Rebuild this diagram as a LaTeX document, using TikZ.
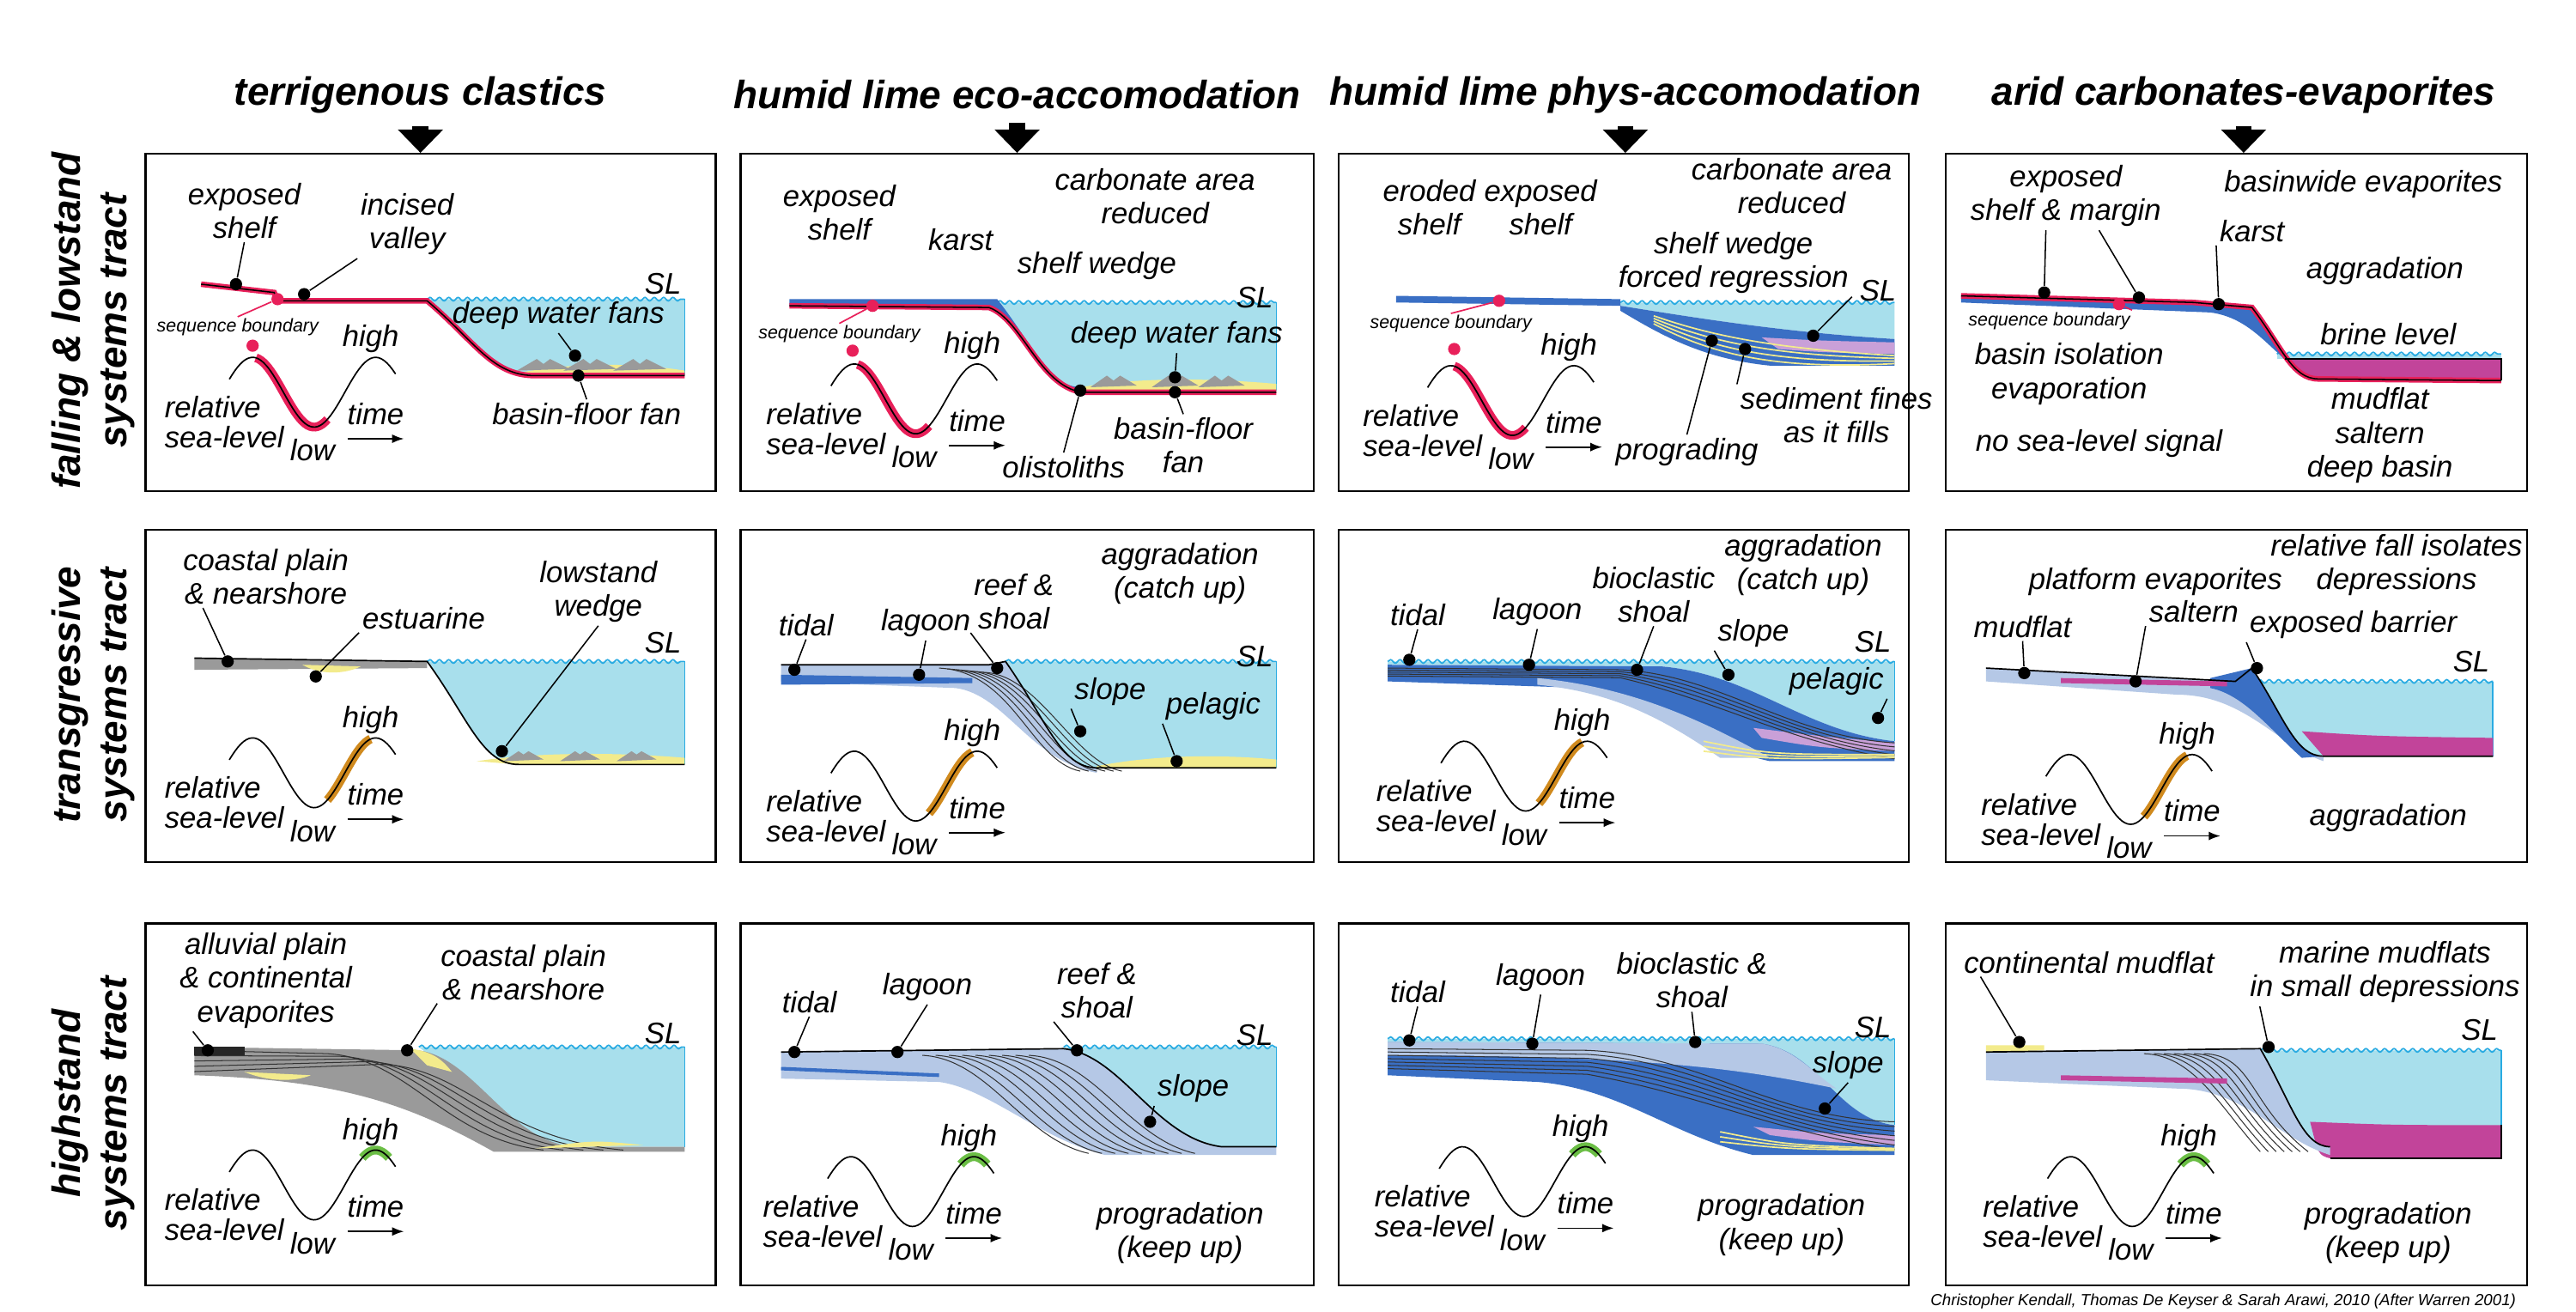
\documentclass[tikz,border=0pt]{standalone}
\usepackage{fontspec}
\setmainfont{Liberation Sans}
\usetikzlibrary{arrows.meta,decorations.pathmorphing,calc}
\definecolor{water}{HTML}{A8DFEC}
\definecolor{sealine}{HTML}{29ABE2}
\definecolor{sbred}{HTML}{E8205A}
\definecolor{carbd}{HTML}{3A6FC4}
\definecolor{carbl}{HTML}{B5C8E6}
\definecolor{evap}{HTML}{C2449A}
\definecolor{sand}{HTML}{F3EB8C}
\definecolor{silt}{HTML}{9A9A9A}
\definecolor{tgold}{HTML}{D08A1E}
\definecolor{hgreen}{HTML}{6BBE45}
\definecolor{lilac}{HTML}{C9A0D8}
\tikzset{
	panel/.style={draw, line width=0.7pt, anchor=north west, inner sep=0},
	hdr/.style={font=\fontsize{13.5}{16}\selectfont\bfseries\itshape, align=center},
	lbl/.style={font=\fontsize{10.2}{11.5}\selectfont\itshape, align=center, inner sep=1pt},
	tiny/.style={font=\fontsize{6.3}{7}\selectfont\itshape, inner sep=0.5pt},
	dot/.style={circle, fill=black, inner sep=0, minimum size=4.2pt},
	rdot/.style={circle, fill=sbred, inner sep=0, minimum size=4.2pt},
	callout/.style={line width=0.45pt},
	wave/.style={draw=sealine, line width=0.5pt, decorate, decoration={snake, segment length=3.2pt, amplitude=0.6pt}},
	profile/.style={draw=black, line width=0.45pt, preaction={draw=sbred, line width=1.9pt}},
	clino/.style={draw=black!80, line width=0.3pt},
	bigarrow/.style={line width=5.5pt, -{Triangle[width=15pt,length=8pt]}},
	sig/.style n args={4}{insert path={.. controls ({#1+0.45*(#3-#1)},{#2+0.55*(#4-#2)}) and ({#3-0.4*(#3-#1)},#4) .. (#3,#4)}}
}
% water body right of the shelf break
\newcommand\basin[5]{%
	\fill[water] (#1,#2) [sig={#1}{#2}{#3}{#4}] -- (#5,#4) -- (#5,#2) -- cycle;
	\draw[wave] (#1,#2) -- (#5,#2);
	\draw[sealine, line width=0.5pt] (#5,#2) -- (#5,#4);}
% relative sea-level curve, trough at (#1,#2)
\newcommand\sealevel[5]{%
	\draw[line width=0.5pt] plot[domain=-51:49, samples=60] ({#1+\x},{#2-21+21*cos(\x*180/37)});
	\draw[line width=0.5pt, preaction={draw=#3, line width=3pt}] plot[domain=#4:#5, samples=30] ({#1+\x},{#2-21+21*cos(\x*180/37)});
	\node[lbl, anchor=west] (rel) at ({#1-92},{#2-12}) {relative};
	\node[lbl, anchor=west] (sea) at ({#1-92},{#2+6}) {sea-level};
	\node[lbl] (low) at ({#1-1},{#2+14}) {low};
	\node[lbl] (high) at ({#1+34},{#2-53}) {high};
	\node[lbl] (time) at ({#1+37},{#2-8}) {time};
	\coordinate (t0) at ({#1+20},{#2+7});
	\coordinate (t1) at ({#1+54},{#2+7});
	\draw[-{Latex[length=4pt]}, line width=0.5pt] (t0) -- (t1);}

\begin{document}
\begin{tikzpicture}[x=0.02cm, y=-0.02cm]
	\useasboundingbox (0,0) rectangle (1550,789);
	\fill[white] (0,0) rectangle (1550,789);

	%%% headers and boxes
	\node[hdr] (h1) at (253,57) {terrigenous clastics};
	\node[hdr] (h2) at (612,57) {humid lime eco-accomodation};
	\node[hdr] (h3) at (978,57) {humid lime phys-accomodation};
	\node[hdr] (h4) at (1350,57) {arid carbonates-evaporites};
	\node[hdr, rotate=90] (r1) at (56,193) {falling \& lowstand\\systems tract};
	\node[hdr, rotate=90] (r2) at (56,418) {transgressive\\systems tract};
	\node[hdr, rotate=90] (r3) at (56,664) {highstand\\systems tract};

	\node[panel, minimum width=6.86cm, minimum height=4.06cm] (b11) at (87,92) {};
	\node[panel, minimum width=6.90cm, minimum height=4.06cm] (b12) at (445,92) {};
	\node[panel, minimum width=6.86cm, minimum height=4.06cm] (b13) at (805,92) {};
	\node[panel, minimum width=7.00cm, minimum height=4.06cm] (b14) at (1170,92) {};
	\node[panel, minimum width=6.86cm, minimum height=4.00cm] (b21) at (87,318) {};
	\node[panel, minimum width=6.90cm, minimum height=4.00cm] (b22) at (445,318) {};
	\node[panel, minimum width=6.86cm, minimum height=4.00cm] (b23) at (805,318) {};
	\node[panel, minimum width=7.00cm, minimum height=4.00cm] (b24) at (1170,318) {};
	\node[panel, minimum width=6.86cm, minimum height=4.36cm] (b31) at (87,555) {};
	\node[panel, minimum width=6.90cm, minimum height=4.36cm] (b32) at (445,555) {};
	\node[panel, minimum width=6.86cm, minimum height=4.36cm] (b33) at (805,555) {};
	\node[panel, minimum width=7.00cm, minimum height=4.36cm] (b34) at (1170,555) {};

	\draw[bigarrow] ([yshift=-1pt]h1.south) -- (h1.south |- b11.north);
	\draw[bigarrow] ([yshift=-1pt]h2.south) -- (h2.south |- b12.north);
	\draw[bigarrow] ([yshift=-1pt]h3.south) -- (h3.south |- b13.north);
	\draw[bigarrow] ([yshift=-1pt]h4.south) -- (h4.south |- b14.north);

	%%% falling & lowstand, terrigenous
	\begin{scope}[shift={(87,92)}, name prefix=a-]
		\basin{170}{88}{235}{134}{325}
		\fill[sand] (222,133) .. controls (260,125) and (300,127) .. (325,131) -- (325,134) -- (235,134) -- cycle;
		\foreach \x in {240,268,298}
			\fill[silt] (\x-16,131) -- (\x-4,124) -- (\x,127) -- (\x+4,124) -- (\x+16,130) -- cycle;
		\draw[profile] (34,79) -- (78,84) -- (80,89) -- (170,89) [sig={170}{89}{235}{134}] -- (325,134);
		\node[lbl] (exp) at (60,35) {exposed\\shelf};
		\node[lbl] (inc) at (158,43) {incised\\valley};
		\node[dot] (d1) at (55,79) {};
		\node[dot] (d2) at (96,85) {};
		\draw[callout] (exp.south) -- (d1);
		\draw[callout] (inc.south west) -- (d2);
		\node[rdot] (sb) at (80,88) {};
		\node[tiny] (sbt) at (56,105) {sequence boundary};
		\node[rdot] (sb2) at (65,116) {};
		\draw[sbred, line width=0.5pt] (sb) -- (sbt.north);
		\node[lbl, anchor=east] (sl) at (325,79) {SL};
		\node[lbl] (dwf) at (249,98) {deep water fans};
		\node[dot] (d3) at (259,122) {};
		\draw[callout] (dwf.south) -- (d3);
		\node[lbl] (bff) at (266,157) {basin-floor fan};
		\node[dot] (d4) at (261,134) {};
		\draw[callout] (bff.north) -- (d4);
		\sealevel{102}{165}{sbred}{-35}{8}
	\end{scope}

	%%% falling & lowstand, humid eco
	\begin{scope}[shift={(445,92)}, name prefix=b-]
		\basin{155}{90}{205}{143}{323}
		\fill[sand] (200,142) .. controls (240,134) and (290,136) .. (323,139) -- (323,143) -- (205,143) -- cycle;
		\foreach \x in {225,262,290}
			\fill[silt] (\x-14,141) -- (\x-4,134) -- (\x,137) -- (\x+4,134) -- (\x+14,140) -- cycle;
		\fill[carbd] (30,88) -- (155,88) [sig={155}{88}{206}{141}] -- (206,145) .. controls (180,140) and (170,100) .. (150,93) -- (30,92) -- cycle;
		\draw[profile] (30,92) -- (150,93) .. controls (170,100) and (180,140) .. (206,144) -- (323,144);
		\node[lbl] (exp) at (60,36) {exposed\\shelf};
		\node[lbl] (kar) at (133,52) {karst};
		\node[lbl] (car) at (250,26) {carbonate area\\reduced};
		\node[lbl] (swd) at (215,68) {shelf wedge};
		\node[tiny] (sbt) at (60,109) {sequence boundary};
		\node[rdot] (sb) at (80,92) {};
		\node[rdot] (sb2) at (68,119) {};
		\draw[sbred, line width=0.5pt] (sb) -- (sbt.north);
		\node[lbl, anchor=east] (sl) at (323,87) {SL};
		\node[lbl] (dwf) at (263,110) {deep water fans};
		\node[lbl] (bff) at (267,176) {basin-floor\\fan};
		\node[lbl] (oli) at (195,189) {olistoliths};
		\node[dot] (d1) at (262,135) {};
		\node[dot] (d2) at (262,144) {};
		\node[dot] (d3) at (205,143) {};
		\draw[callout] (dwf.south) -- (d1);
		\draw[callout] (bff.north) -- (d2);
		\draw[callout] (oli.north) -- (d3);
		\sealevel{106}{169}{sbred}{-35}{8}
	\end{scope}

	%%% falling & lowstand, humid phys
	\begin{scope}[shift={(805,92)}, name prefix=c-]
		\fill[water] (170,90) -- (335,90) -- (335,112) .. controls (270,108) and (220,100) .. (170,92) -- cycle;
		\draw[wave] (170,90) -- (335,90);
		\fill[carbd] (170,92) .. controls (220,100) and (270,108) .. (335,112) -- (335,128) -- (260,128) .. controls (220,124) and (195,110) .. (170,95) -- cycle;
		\fill[lilac] (255,111) .. controls (290,113) .. (335,114) -- (335,121) .. controls (290,120) .. (265,118) -- cycle;
		\foreach \k in {0,4,8,12}
			\draw[sand, line width=0.5pt] (190,98+\k*0.4) .. controls (230,112+\k) and (270,118+\k) .. (335,122+\k*0.4);
		\fill[carbd] (35,86) -- (170,88) -- (170,92) -- (35,90) -- cycle;
		\node[lbl] (ero) at (55,33) {eroded\\shelf};
		\node[lbl] (exp) at (122,33) {exposed\\shelf};
		\node[lbl] (car) at (273,20) {carbonate area\\reduced};
		\node[lbl] (swd) at (238,66) {shelf wedge\\forced regression};
		\node[tiny] (sbt) at (68,103) {sequence boundary};
		\node[rdot] (sb) at (97,89) {};
		\node[rdot] (sb2) at (70,118) {};
		\draw[sbred, line width=0.5pt] (sb) -- (sbt.north);
		\node[lbl, anchor=east] (sl) at (338,83) {SL};
		\node[dot] (d1) at (286,110) {};
		\draw[callout] (swd.south east) -- (d1);
		\node[lbl] (sed) at (300,158) {sediment fines\\as it fills};
		\node[dot] (d2) at (245,118) {};
		\draw[callout] (sed.north west) -- (d2);
		\node[lbl] (pro) at (210,180) {prograding};
		\node[dot] (d3) at (225,113) {};
		\draw[callout] (pro.north) -- (d3);
		\sealevel{105}{170}{sbred}{-35}{8}
	\end{scope}

	%%% falling & lowstand, arid
	\begin{scope}[shift={(1170,92)}, name prefix=d-]
		\fill[water] (200,121) rectangle (335,124);
		\draw[wave] (200,121) -- (335,121);
		\fill[evap] (205,124) -- (335,124) -- (335,137) -- (235,137) .. controls (220,137) .. (205,124) -- cycle;
		\fill[carbd] (10,86) -- (150,90) -- (185,93) [sig={185}{93}{225}{136}] -- (225,137) .. controls (200,128) and (190,100) .. (160,96) -- (10,90) -- cycle;
		\draw[profile] (10,86) -- (150,90) -- (185,93) [sig={185}{93}{225}{136}] -- (335,137);
		\draw[line width=0.5pt] (205,124) -- (335,124) -- (335,137);
		\node[lbl] (exp) at (73,26) {exposed\\shelf \& margin};
		\node[lbl] (bwe) at (252,19) {basinwide evaporites};
		\node[lbl] (kar) at (185,47) {karst};
		\node[lbl] (agg) at (265,71) {aggradation};
		\node[lbl] (brl) at (267,109) {brine level};
		\node[dot] (d1) at (60,84) {};
		\node[dot] (d2) at (117,87) {};
		\node[dot] (d3) at (165,91) {};
		\draw[callout] (exp.south) ++(-12,0) coordinate (e1) (e1) -- (d1);
		\draw[callout] (exp.south) ++(20,0) coordinate (e2) (e2) -- (d2);
		\draw[callout] (kar.south west) -- (d3);
		\node[rdot] (sb) at (105,91) {};
		\node[tiny] (sbt) at (63,101) {sequence boundary};
		\draw[sbred, line width=0.5pt] (sb) -- (sbt.north east);
		\node[lbl] (iso) at (75,133) {basin isolation\\evaporation};
		\node[lbl] (nos) at (93,175) {no sea-level signal};
		\node[lbl] (mud) at (262,170) {mudflat\\saltern\\deep basin};
	\end{scope}

	%%% transgressive, terrigenous
	\begin{scope}[shift={(87,318)}, name prefix=e-]
		\basin{170}{80}{225}{142}{325}
		\fill[sand] (200,140) .. controls (240,134) and (290,135) .. (325,138) -- (325,142) -- (225,142) -- cycle;
		\foreach \x in {228,262,296}
			\fill[silt] (\x-12,140) -- (\x-3,134) -- (\x,136) -- (\x+3,134) -- (\x+12,139) -- cycle;
		\fill[silt] (30,78) -- (170,80) -- (170,84) -- (30,85) -- cycle;
		\fill[sand] (95,82) .. controls (105,88) and (120,88) .. (130,83) -- cycle;
		\draw[line width=0.5pt] (30,78) -- (170,80) [sig={170}{80}{225}{142}] -- (325,142);
		\node[lbl] (cpn) at (73,29) {coastal plain\\\& nearshore};
		\node[lbl] (est) at (168,54) {estuarine};
		\node[lbl] (low) at (273,38) {lowstand\\wedge};
		\node[lbl, anchor=east] (sl) at (325,69) {SL};
		\node[dot] (d1) at (50,80) {};
		\node[dot] (d2) at (103,89) {};
		\node[dot] (d3) at (215,134) {};
		\draw[callout] (cpn.south west) ++(14,0) coordinate (c1) (c1) -- (d1);
		\draw[callout] (est.south west) -- (d2);
		\draw[callout] (low.south) -- (d3);
		\sealevel{102}{168}{tgold}{8}{34}
	\end{scope}

	%%% transgressive, humid eco
	\begin{scope}[shift={(445,318)}, name prefix=f-]
		\basin{160}{80}{215}{144}{323}
		\fill[sand] (215,143) .. controls (250,136) and (290,136) .. (323,139) -- (323,144) -- (215,144) -- cycle;
		\fill[carbl] (25,82) -- (150,82) -- (160,80) [sig={160}{80}{215}{144}] -- (215,147) .. controls (175,140) and (160,100) .. (130,96) -- (25,92) -- cycle;
		\foreach \d in {0,5,...,25}
			\draw[clino] (120+\d,84+\d*0.1) .. controls (165+\d*0.6,86) and (175+\d,140) .. (205+\d,146);
		\fill[carbd] (25,88) -- (140,90) -- (140,93) -- (25,94) -- cycle;
		\draw[line width=0.5pt] (25,82) -- (150,82) -- (160,80) [sig={160}{80}{215}{144}] -- (323,144);
		\node[lbl] (tid) at (40,58) {tidal};
		\node[lbl] (lag) at (112,57) {lagoon};
		\node[lbl] (ree) at (165,44) {reef \&\\shoal};
		\node[lbl] (agg) at (265,27) {aggradation\\(catch up)};
		\node[lbl] (slo) at (223,98) {slope};
		\node[lbl] (pel) at (285,107) {pelagic};
		\node[lbl, anchor=east] (sl) at (323,77) {SL};
		\node[dot] (d1) at (33,85) {};
		\node[dot] (d2) at (108,88) {};
		\node[dot] (d3) at (155,84) {};
		\node[dot] (d4) at (205,122) {};
		\node[dot] (d5) at (263,140) {};
		\draw[callout] (tid.south) -- (d1);
		\draw[callout] (lag.south) -- (d2);
		\draw[callout] (ree.south west) -- (d3);
		\draw[callout] (slo.south west) -- (d4);
		\draw[callout] (pel.south west) -- (d5);
		\sealevel{106}{176}{tgold}{8}{34}
	\end{scope}

	%%% transgressive, humid phys
	\begin{scope}[shift={(805,318)}, name prefix=g-]
		\fill[water] (30,80) -- (335,80) -- (335,128) .. controls (280,122) and (250,88) .. (195,83) -- (30,82) -- cycle;
		\draw[wave] (30,80) -- (335,80);
		\draw[sealine, line width=0.5pt] (335,80) -- (335,128);
		\fill[carbd] (30,82) -- (195,83) .. controls (250,88) and (280,122) .. (335,128) -- (335,140) -- (260,140) .. controls (220,132) and (200,100) .. (150,96) -- (30,92) -- cycle;
		\fill[lilac] (250,120) .. controls (290,125) .. (335,129) -- (335,134) .. controls (290,132) .. (255,126) -- cycle;
		\fill[carbl] (120,90) .. controls (170,95) and (210,110) .. (260,138) -- (230,138) .. controls (190,110) and (160,98) .. (120,94) -- cycle;
		\foreach \d in {0,4,...,16}
			\draw[clino] (30,84+\d*0.3) -- (170,85+\d*0.3) .. controls (230,88+\d) and (270,125+\d*0.2) .. (335,129+\d*0.6);
		\foreach \d in {0,3,6}
			\draw[sand, line width=0.5pt] (220,128+\d) .. controls (260,136+\d*0.5) .. (335,136+\d*0.3);
		\node[lbl] (tid) at (48,52) {tidal};
		\node[lbl] (lag) at (120,50) {lagoon};
		\node[lbl] (sho) at (190,40) {bioclastic\\shoal};
		\node[lbl] (agg) at (280,22) {aggradation\\(catch up)};
		\node[lbl] (slo) at (250,63) {slope};
		\node[lbl] (pel) at (300,92) {pelagic};
		\node[lbl, anchor=east] (sl) at (335,68) {SL};
		\node[dot] (d1) at (43,79) {};
		\node[dot] (d2) at (115,82) {};
		\node[dot] (d3) at (180,85) {};
		\node[dot] (d4) at (235,88) {};
		\node[dot] (d5) at (325,114) {};
		\draw[callout] (tid.south) -- (d1);
		\draw[callout] (lag.south) -- (d2);
		\draw[callout] (sho.south) -- (d3);
		\draw[callout] (slo.south west) -- (d4);
		\draw[callout] (pel.south east) -- (d5);
		\sealevel{113}{170}{tgold}{8}{34}
	\end{scope}

	%%% transgressive, arid
	\begin{scope}[shift={(1170,318)}, name prefix=k-]
		\basin{188}{92}{228}{137}{330}
		\fill[evap] (215,122) .. controls (260,125) .. (330,126) -- (330,137) -- (228,137) -- cycle;
		\fill[carbl] (25,84) -- (175,92) -- (185,84) [sig={185}{84}{228}{137}] -- (228,140) .. controls (200,130) and (180,100) .. (140,100) -- (25,92) -- cycle;
		\fill[carbd] (160,90) -- (185,84) [sig={185}{84}{228}{137}] -- (215,138) .. controls (195,120) and (180,100) .. (160,96) -- cycle;
		\fill[evap] (70,90) -- (170,92) -- (170,95) -- (70,93) -- cycle;
		\draw[line width=0.5pt] (25,84) -- (175,92) -- (185,84) [sig={185}{84}{228}{137}] -- (330,137);
		\node[lbl] (pev) at (127,32) {platform evaporites};
		\node[lbl] (sal) at (150,50) {saltern};
		\node[lbl] (rfi) at (272,22) {relative fall isolates\\depressions};
		\node[lbl] (mud) at (47,59) {mudflat};
		\node[lbl] (bar) at (246,58) {exposed barrier};
		\node[lbl, anchor=east] (sl) at (330,80) {SL};
		\node[dot] (d1) at (48,87) {};
		\node[dot] (d2) at (115,92) {};
		\node[dot] (d3) at (188,84) {};
		\draw[callout] (mud.south) -- (d1);
		\draw[callout] (sal.south west) -- (d2);
		\draw[callout] (bar.south west) -- (d3);
		\node[lbl] (agg) at (267,174) {aggradation};
		\sealevel{112}{178}{tgold}{8}{34}
	\end{scope}

	%%% highstand, terrigenous
	\begin{scope}[shift={(87,555)}, name prefix=m-]
		\basin{165}{75}{260}{135}{325}
		\fill[silt] (30,75) -- (165,77) .. controls (200,82) and (220,135) .. (262,135) -- (325,135) -- (325,138) -- (210,138) .. controls (160,110) and (120,95) .. (30,92) -- cycle;
		\foreach \d in {0,4,...,16}
			\draw[clino] (30,77+\d*0.8) -- (110+\d*2,79+\d*0.4) .. controls (160+\d*2,82+\d*0.3) and (180+\d*2,130) .. (240+\d*3,137);
		\fill[sand] (160,76) .. controls (175,78) and (180,84) .. (185,90) -- (170,86) -- cycle;
		\fill[sand] (60,90) .. controls (75,96) and (90,96) .. (100,92) -- cycle;
		\fill[sand] (235,136) .. controls (270,131) .. (300,134) -- cycle;
		\fill[black!85] (30,75) rectangle (60,80);
		\node[lbl] (all) at (73,35) {alluvial plain\\\& continental\\evaporites};
		\node[lbl] (cpn) at (228,30) {coastal plain\\\& nearshore};
		\node[lbl, anchor=east] (sl) at (325,67) {SL};
		\node[dot] (d1) at (38,77) {};
		\node[dot] (d2) at (158,77) {};
		\draw[callout] (all.south west) ++(10,0) coordinate (c1) (c1) -- (d1);
		\draw[callout] (cpn.south west) -- (d2);
		\sealevel{102}{179}{hgreen}{29}{45}
	\end{scope}

	%%% highstand, humid eco
	\begin{scope}[shift={(445,555)}, name prefix=n-]
		\basin{195}{75}{275}{135}{323}
		\fill[carbl] (25,78) -- (195,76) .. controls (230,80) and (250,130) .. (290,135) -- (323,135) -- (323,140) -- (220,140) .. controls (180,130) and (150,100) .. (120,96) -- (25,94) -- cycle;
		\foreach \d in {0,8,...,64}
			\draw[clino] (110+\d,80) .. controls (150+\d,82) and (170+\d,130) .. (210+\d,139);
		\draw[carbd, line width=1.2pt] (25,88) -- (120,92);
		\draw[line width=0.5pt] (25,78) -- (195,76) .. controls (230,80) and (250,130) .. (290,135) -- (323,135);
		\node[lbl] (tid) at (42,48) {tidal};
		\node[lbl] (lag) at (113,39) {lagoon};
		\node[lbl] (ree) at (215,41) {reef \&\\shoal};
		\node[lbl] (slo) at (273,100) {slope};
		\node[lbl, anchor=east] (sl) at (323,68) {SL};
		\node[lbl] (pro) at (265,187) {progradation\\(keep up)};
		\node[dot] (d1) at (33,78) {};
		\node[dot] (d2) at (95,78) {};
		\node[dot] (d3) at (203,77) {};
		\node[dot] (d4) at (247,120) {};
		\draw[callout] (tid.south) -- (d1);
		\draw[callout] (lag.south) -- (d2);
		\draw[callout] (ree.south west) -- (d3);
		\draw[callout] (slo.south west) -- (d4);
		\sealevel{104}{183}{hgreen}{29}{45}
	\end{scope}

	%%% highstand, humid phys
	\begin{scope}[shift={(805,555)}, name prefix=p-]
		\fill[water] (30,70) -- (335,70) -- (335,122) .. controls (300,118) and (290,78) .. (255,73) -- (30,72) -- cycle;
		\draw[wave] (30,70) -- (335,70);
		\draw[sealine, line width=0.5pt] (335,70) -- (335,122);
		\fill[carbd] (30,72) -- (255,73) .. controls (290,78) and (300,118) .. (335,122) -- (335,140) -- (250,140) .. controls (200,128) and (170,100) .. (120,96) -- (30,92) -- cycle;
		\fill[carbl] (30,72) -- (255,73) .. controls (275,76) and (285,90) .. (300,100) .. controls (250,90) and (200,80) .. (30,80) -- cycle;
		\fill[lilac] (250,123) .. controls (290,127) .. (335,128) -- (335,134) .. controls (290,132) .. (260,128) -- cycle;
		\foreach \d in {0,4,...,24}
			\draw[clino] (30,76+\d*0.5) -- (150,77+\d*0.6) .. controls (220,80+\d) and (260,118+\d*0.3) .. (335,120+\d*0.7);
		\foreach \d in {0,3,6}
			\draw[sand, line width=0.5pt] (230,126+\d) .. controls (270,134+\d*0.4) .. (335,136+\d*0.2);
		\node[lbl] (tid) at (48,42) {tidal};
		\node[lbl] (lag) at (122,33) {lagoon};
		\node[lbl] (sho) at (213,35) {bioclastic \&\\shoal};
		\node[lbl] (slo) at (307,86) {slope};
		\node[lbl, anchor=east] (sl) at (335,63) {SL};
		\node[lbl] (pro) at (267,182) {progradation\\(keep up)};
		\node[dot] (d1) at (43,71) {};
		\node[dot] (d2) at (117,73) {};
		\node[dot] (d3) at (215,72) {};
		\node[dot] (d4) at (293,112) {};
		\draw[callout] (tid.south) -- (d1);
		\draw[callout] (lag.south) -- (d2);
		\draw[callout] (sho.south) -- (d3);
		\draw[callout] (slo.south) -- (d4);
		\sealevel{112}{177}{hgreen}{29}{45}
	\end{scope}

	%%% highstand, arid
	\begin{scope}[shift={(1170,555)}, name prefix=q-]
		\basin{190}{77}{232}{135}{335}
		\fill[evap] (220,120) .. controls (270,122) .. (335,122) -- (335,142) -- (232,142) .. controls (225,140) .. (220,120) -- cycle;
		\fill[carbl] (25,78) -- (190,76) [sig={190}{76}{232}{135}] -- (232,140) .. controls (200,130) and (180,100) .. (140,100) -- (25,95) -- cycle;
		\foreach \d in {0,6,...,36}
			\draw[clino] (120+\d,79) .. controls (150+\d,80) and (165+\d*0.5,110) .. (190+\d*0.8,138);
		\fill[evap] (70,92) -- (170,94) -- (170,97) -- (70,95) -- cycle;
		\fill[sand] (25,74) -- (60,74) -- (60,77) -- (25,78) -- cycle;
		\draw[line width=0.5pt] (25,78) -- (190,76) [sig={190}{76}{232}{135}];
		\draw[line width=0.5pt] (232,142) -- (335,142) -- (335,122);
		\node[lbl] (cmf) at (87,24) {continental mudflat};
		\node[lbl] (mmf) at (265,30) {marine mudflats\\in small depressions};
		\node[lbl, anchor=east] (sl) at (335,65) {SL};
		\node[lbl] (pro) at (267,187) {progradation\\(keep up)};
		\node[dot] (d1) at (45,72) {};
		\node[dot] (d2) at (195,75) {};
		\draw[callout] (cmf.south west) ++(12,0) coordinate (c1) (c1) -- (d1);
		\draw[callout] (mmf.south west) ++(8,0) coordinate (c2) (c2) -- (d2);
		\sealevel{113}{183}{hgreen}{29}{45}
	\end{scope}

	\node[font=\fontsize{5.5}{6}\selectfont\itshape, anchor=east] (cred) at (1520,783) {Christopher Kendall, Thomas De Keyser \& Sarah Arawi, 2010 (After Warren 2001)};
\end{tikzpicture}
\end{document}
